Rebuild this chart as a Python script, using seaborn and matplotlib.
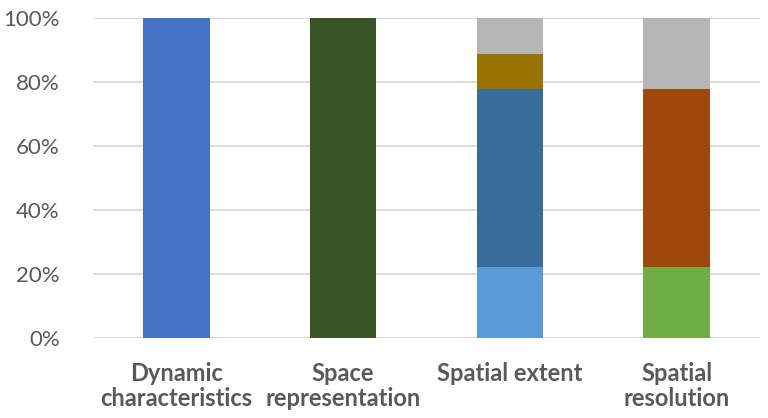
import matplotlib
matplotlib.use("Agg")
import matplotlib.pyplot as plt
import seaborn as sns
import numpy as np

categories = ["Dynamic\ncharacteristics", "Space\nrepresentation", "Spatial extent", "Spatial\nresolution"]
seg1_values = [100.0, 100.0, 22.2, 22.2]
seg2_values = [0.0, 0.0, 55.6, 55.6]
seg3_values = [0.0, 0.0, 11.1, 0.0]
seg4_values = [0.0, 0.0, 11.1, 22.2]
seg1_colors = ["#4472C4", "#375623", "#5B9BD5", "#70AD47"]
seg2_colors = ["#386C99", "#386C99", "#386C99", "#9E480E"]
seg3_colors = ["#997300", "#997300", "#997300", "#997300"]
seg4_colors = ["#B6B6B6", "#B6B6B6", "#B6B6B6", "#B6B6B6"]
yticks = [0, 20, 40, 60, 80, 100]
ytick_labels = ["0%", "20%", "40%", "60%", "80%", "100%"]

sns.set_style("white")
plt.rcParams["font.family"] = ["Lato", "DejaVu Sans"]

fig = plt.figure(figsize=(7.68, 4.18), dpi=100)
ax = fig.add_axes([93/768, 1-338/418, 667/768, 320/418])

layers = [(seg1_values, seg1_colors), (seg2_values, seg2_colors),
          (seg3_values, seg3_colors), (seg4_values, seg4_colors)]
tops = []
running = np.zeros(len(categories))
for vals, cols in layers:
    running = running + np.array(vals)
    tops.append((running.copy(), cols))

# draw cumulative totals from the top layer down so lower layers sit in front
for k, (top, cols) in enumerate(reversed(tops)):
    sns.barplot(x=categories, y=top, hue=categories, palette=cols, legend=False,
                width=0.4, ax=ax, linewidth=0, saturation=1, zorder=3 + k)

ax.set_ylim(0, 100)
ax.set_xlim(-0.5, 3.5)
ax.set_yticks(yticks)
ax.set_yticklabels(ytick_labels)
ax.yaxis.grid(True, color="#D9D9D9", linewidth=1.3, zorder=0)
ax.set_axisbelow(True)
for s in ax.spines.values():
    s.set_visible(False)
ax.tick_params(axis="y", length=0, pad=24, labelsize=16, labelcolor="#595959")
ax.tick_params(axis="x", length=0, pad=17, labelsize=17, labelcolor="#595959")
for lab in ax.get_xticklabels():
    lab.set_fontweight("bold")
    lab.set_verticalalignment("top")
    lab.set_linespacing(1.15)
ax.set_xlabel("")
ax.set_ylabel("")

fig.savefig("out.png", dpi=100)
